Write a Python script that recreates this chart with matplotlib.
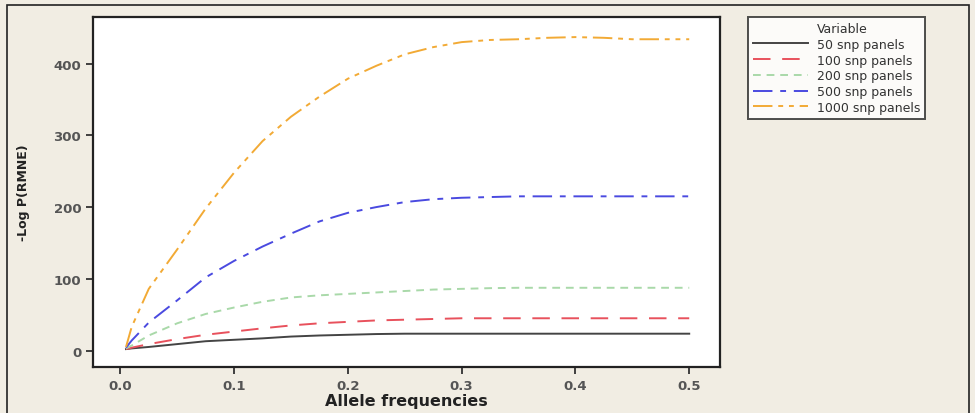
import matplotlib
matplotlib.use("Agg")
import matplotlib.pyplot as plt
from matplotlib.lines import Line2D
from matplotlib.patches import Rectangle

# allele frequency grid
freq = [0.005, 0.01, 0.025, 0.05, 0.075, 0.1, 0.125, 0.15, 0.175, 0.2, 0.225,
        0.25, 0.275, 0.3, 0.325, 0.35, 0.375, 0.4, 0.425, 0.45, 0.475, 0.5]

snp50 = [2, 3, 5, 9, 13, 15, 17, 19.5, 21, 22, 23, 23.5, 23.5, 23.5, 23.5,
         23.5, 23.5, 23.5, 23.5, 23.5, 23.5, 23.5]
snp100 = [2, 4, 9, 16, 22, 26.5, 31, 35, 38, 40, 42, 43, 44, 45, 45, 45,
          45, 45, 45, 45, 45, 45]
snp200 = [3, 7, 21, 38, 51, 60, 68, 74, 77, 79, 81, 83, 85, 86, 87, 87.5,
          87.5, 87.5, 87.5, 87.5, 87.5, 87.5]
snp500 = [4, 14, 39, 70, 102, 125, 145, 163, 180, 192, 200, 207, 211, 213, 214,
          215, 215, 215, 215, 215, 215, 215]
snp1000 = [5, 33, 86, 141, 198, 248, 292, 326, 354, 379, 397, 413, 423, 430,
           433, 434, 436, 437, 436, 434, 434, 434]

series = [
    ("50 snp panels", snp50, "#444444", "-"),
    ("100 snp panels", snp100, "#e8515c", (0, (9, 6))),
    ("200 snp panels", snp200, "#a9d9a9", (0, (4, 3))),
    ("500 snp panels", snp500, "#4a4ae0", (0, (10, 4, 3, 4))),
    ("1000 snp panels", snp1000, "#f2aa35", (0, (10, 3, 2.5, 3, 2.5, 3))),
]

bg = "#f1ede3"
fig = plt.figure(figsize=(9.75, 4.14), dpi=100, facecolor=bg)
ax = fig.add_axes([0.0954, 0.111, 0.643, 0.8455])
ax.set_facecolor("white")

handles = [Line2D([], [], color="none", label="Variable")]
for name, vals, col, ls in series:
    ln, = ax.plot(freq, vals, color=col, linestyle=ls, linewidth=1.4, label=name)
    handles.append(ln)

ax.set_xlim(-0.024, 0.527)
ax.set_ylim(-23, 465)
ax.set_xticks([0.0, 0.1, 0.2, 0.3, 0.4, 0.5])
ax.set_xticklabels(["0.0", "0.1", "0.2", "0.3", "0.4", "0.5"])
ax.set_yticks([0, 100, 200, 300, 400])
ax.tick_params(axis="both", direction="out", length=5, width=1.2, colors="#222222",
               labelcolor="#555555", labelsize=9.5, top=False, right=False)
for lab in ax.get_xticklabels() + ax.get_yticklabels():
    lab.set_fontweight("bold")
for sp in ax.spines.values():
    sp.set_linewidth(1.6)
    sp.set_color("#222222")

ax.set_xlabel("Allele frequencies", fontsize=11.5, fontweight="bold", labelpad=1,
              color="#222222")
ax.set_ylabel("-Log P(RMNE)", fontsize=9, fontweight="bold", labelpad=17,
              color="#222222")

leg = fig.legend(handles=handles, loc="upper left", bbox_to_anchor=(0.767, 0.9565),
                 fontsize=9, frameon=True, fancybox=False, handlelength=4.4,
                 handletextpad=0.7, labelspacing=0.22, borderpad=0.4,
                 borderaxespad=0)
leg.get_frame().set_edgecolor("#222222")
leg.get_frame().set_linewidth(1.4)
for t in leg.get_texts():
    t.set_color("#333333")

# thin outer frame of the original figure
fig.patches.append(Rectangle((0.007, -0.05), 0.987, 1.035, transform=fig.transFigure,
                             fill=False, edgecolor="#222222", linewidth=1.2))

fig.savefig("out.png", dpi=100, facecolor=bg)
